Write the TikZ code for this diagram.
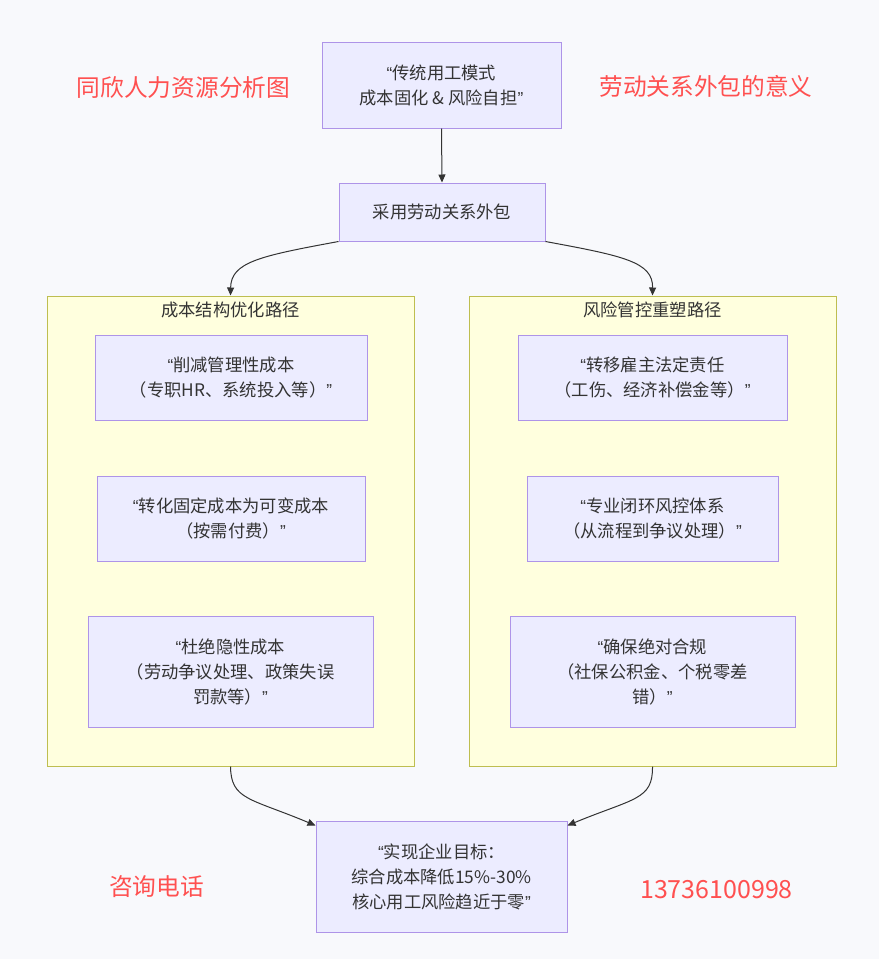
\documentclass[tikz,border=0pt]{standalone}
\usepackage{fontspec}
\setmainfont{Noto Sans CJK SC}
\newfontfamily\latq{Liberation Sans}
\usetikzlibrary{arrows.meta,calc}
\definecolor{bgc}{RGB}{248,249,252}
\definecolor{nodefill}{RGB}{236,236,255}
\definecolor{nodeline}{RGB}{174,148,232}
\definecolor{clfill}{RGB}{255,255,222}
\definecolor{clline}{RGB}{190,190,80}
\definecolor{txt}{RGB}{51,51,51}
\definecolor{redt}{RGB}{255,80,80}
\newcommand{\oq}{{\latq “}}
\newcommand{\cq}{{\latq ”}}
\tikzset{
  box/.style={draw=nodeline, fill=nodefill, line width=1pt, rectangle, align=center,
    text=txt, font=\fontsize{17.3}{25}\selectfont, inner sep=0pt},
  cluster/.style={draw=clline, fill=clfill, line width=1pt, rectangle, inner sep=0pt},
  cltitle/.style={text=txt, font=\fontsize{17.3}{20}\selectfont, inner sep=0pt},
  redlabel/.style={text=redt, font=\fontsize{23.7}{28}\selectfont, inner sep=0pt},
  arr/.style={draw=txt, line width=1pt, -{Triangle[length=8pt,width=7pt]}}
}
\begin{document}
\begin{tikzpicture}[x=1pt,y=-1pt]
\fill[bgc] (0,0) rectangle (879,959);
\useasboundingbox (0,0) rectangle (879,959);

% clusters
\node[cluster, minimum width=367, minimum height=470] (cl) at (230.5,531) {};
\node[cluster, minimum width=367, minimum height=470] (cr) at (652.5,531) {};
\node[cltitle] (clt) at (230.5,310) {成本结构优化路径};
\node[cltitle] (crt) at (652.5,310) {风险管控重塑路径};

% main nodes
\node[box, minimum width=239, minimum height=86] (top) at (441.5,85)
  {\oq 传统用工模式\\成本固化 \& 风险自担\cq};
\node[box, minimum width=206, minimum height=58] (mid) at (442,212)
  {采用劳动关系外包};

\node[box, minimum width=272, minimum height=85] (l1) at (231,377.5)
  {\oq 削减管理性成本\\（专职HR、系统投入等）\cq};
\node[box, minimum width=268, minimum height=85] (l2) at (231,518.5)
  {\oq 转化固定成本为可变成本\\（按需付费）\cq};
\node[box, minimum width=285, minimum height=111] (l3) at (230.5,671.5)
  {\oq 杜绝隐性成本\\（劳动争议处理、政策失误\\罚款等）\cq};

\node[box, minimum width=269, minimum height=85] (r1) at (652.5,377.5)
  {\oq 转移雇主法定责任\\（工伤、经济补偿金等）\cq};
\node[box, minimum width=251, minimum height=85] (r2) at (652.5,518.5)
  {\oq 专业闭环风控体系\\（从流程到争议处理）\cq};
\node[box, minimum width=285, minimum height=111] (r3) at (652.5,671.5)
  {\oq 确保绝对合规\\（社保公积金、个税零差\\错）\cq};

\node[box, minimum width=251, minimum height=111] (bot) at (441.5,876.5)
  {\oq 实现企业目标：\\综合成本降低15\%-30\%\\核心用工风险趋近于零\cq};

% red labels
\node[redlabel] (t1) at (183.5,88) {同欣人力资源分析图};
\node[redlabel] (t2) at (706,86) {劳动关系外包的意义};
\node[redlabel] (t3) at (156.5,887) {咨询电话};
\node[redlabel, font=\fontsize{25}{28}\selectfont] (t4) at (716.5,890) {13736100998};

% connectors
\draw[arr] (top.south) -- (mid.north);
\draw[arr] (mid.south west) .. controls (260,256) and (231,262) .. (cl.north);
\draw[arr] (mid.south east) .. controls (624,256) and (653,262) .. (cr.north);
\draw[arr] (cl.south) .. controls (231,800) and (250,798) .. ($(bot.north west)+(0,5)$);
\draw[arr] (cr.south) .. controls (653,800) and (634,798) .. ($(bot.north east)+(0,5)$);
\end{tikzpicture}
\end{document}
